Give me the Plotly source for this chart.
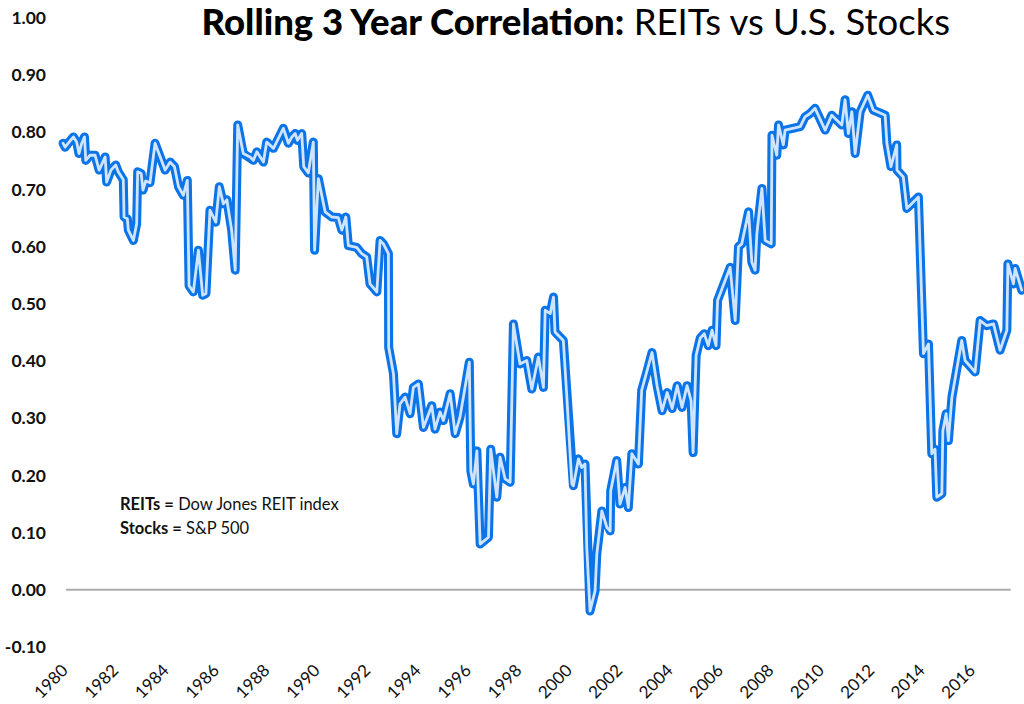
import plotly.graph_objects as go

# Decimal-year dates and rolling 3-year correlation values
years = [
    1980.00, 1980.08, 1980.24, 1980.41, 1980.54, 1980.63, 1980.74, 1980.85, 1980.90, 1981.07,
    1981.27, 1981.43, 1981.67, 1981.73, 1981.90, 1982.09, 1982.19, 1982.39, 1982.42, 1982.55,
    1982.59, 1982.79, 1982.92, 1982.96, 1983.10, 1983.17, 1983.28, 1983.45, 1983.65, 1984.05,
    1984.25, 1984.42, 1984.58, 1984.77, 1984.93, 1985.00, 1985.17, 1985.37, 1985.54, 1985.67,
    1985.83, 1986.06, 1986.20, 1986.36, 1986.50, 1986.69, 1986.83, 1986.93, 1987.15, 1987.42,
    1987.55, 1987.69, 1987.95, 1988.08, 1988.35, 1988.74, 1988.94, 1989.08, 1989.21, 1989.30,
    1989.47, 1989.55, 1989.73, 1989.93, 1989.98, 1990.13, 1990.40, 1990.66, 1990.92, 1991.06,
    1991.22, 1991.32, 1991.65, 1991.85, 1992.05, 1992.18, 1992.45, 1992.58, 1992.71, 1992.91,
    1992.92, 1993.11, 1993.24, 1993.37, 1993.57, 1993.77, 1993.90, 1994.10, 1994.30, 1994.63,
    1994.76, 1994.96, 1995.09, 1995.36, 1995.56, 1995.75, 1996.12, 1996.18, 1996.28, 1996.42,
    1996.55, 1996.88, 1996.97, 1997.21, 1997.34, 1997.54, 1997.74, 1997.87, 1998.13, 1998.40,
    1998.60, 1998.86, 1999.06, 1999.13, 1999.33, 1999.46, 1999.52, 1999.85, 1999.99, 2000.19,
    2000.25, 2000.45, 2000.58, 2000.71, 2000.78, 2000.91, 2001.11, 2001.18, 2001.38, 2001.58,
    2001.71, 2001.73, 2001.97, 2002.10, 2002.30, 2002.43, 2002.57, 2002.83, 2002.96, 2003.16,
    2003.37, 2003.57, 2003.77, 2003.97, 2004.17, 2004.37, 2004.56, 2004.76, 2004.92, 2005.00,
    2005.12, 2005.28, 2005.44, 2005.60, 2005.75, 2005.91, 2005.97, 2006.47, 2006.67, 2006.80,
    2006.93, 2007.20, 2007.33, 2007.46, 2007.53, 2007.73, 2007.86, 2008.10, 2008.13, 2008.32,
    2008.39, 2008.58, 2008.65, 2009.25, 2009.44, 2009.64, 2009.84, 2010.24, 2010.50, 2010.90,
    2011.03, 2011.16, 2011.30, 2011.43, 2011.63, 2011.93, 2012.15, 2012.62, 2012.69, 2012.85,
    2013.08, 2013.09, 2013.34, 2013.48, 2013.68, 2013.94, 2014.14, 2014.34, 2014.47, 2014.60,
    2014.67, 2014.87, 2014.91, 2015.04, 2015.13, 2015.27, 2015.66, 2015.79, 2016.19, 2016.39,
    2016.65, 2016.92, 2017.18, 2017.45, 2017.49, 2017.71, 2017.78, 2018.04,
]
correlation = [
    0.781, 0.774, 0.783, 0.792, 0.783, 0.763, 0.781, 0.792, 0.751, 0.760,
    0.760, 0.734, 0.757, 0.713, 0.734, 0.743, 0.731, 0.717, 0.652, 0.649,
    0.629, 0.611, 0.640, 0.731, 0.728, 0.699, 0.715, 0.712, 0.781, 0.734,
    0.748, 0.740, 0.705, 0.690, 0.716, 0.532, 0.521, 0.594, 0.515, 0.518,
    0.664, 0.643, 0.705, 0.675, 0.682, 0.629, 0.559, 0.813, 0.763, 0.757,
    0.751, 0.766, 0.748, 0.783, 0.772, 0.807, 0.781, 0.792, 0.798, 0.786,
    0.798, 0.740, 0.729, 0.783, 0.594, 0.719, 0.661, 0.652, 0.651, 0.629,
    0.652, 0.602, 0.599, 0.588, 0.582, 0.535, 0.521, 0.611, 0.605, 0.588,
    0.424, 0.378, 0.273, 0.325, 0.337, 0.308, 0.354, 0.360, 0.284, 0.322,
    0.281, 0.311, 0.296, 0.343, 0.273, 0.302, 0.398, 0.208, 0.185, 0.243,
    0.080, 0.092, 0.246, 0.162, 0.232, 0.194, 0.188, 0.465, 0.395, 0.401,
    0.351, 0.407, 0.354, 0.489, 0.483, 0.512, 0.451, 0.436, 0.337, 0.185,
    0.182, 0.229, 0.214, 0.220, 0.074, -0.037, -0.002, 0.063, 0.138, 0.109,
    0.103, 0.173, 0.226, 0.150, 0.179, 0.144, 0.238, 0.220, 0.349, 0.380,
    0.415, 0.357, 0.313, 0.345, 0.317, 0.357, 0.319, 0.357, 0.331, 0.240,
    0.410, 0.440, 0.448, 0.427, 0.454, 0.427, 0.506, 0.564, 0.471, 0.600,
    0.605, 0.661, 0.573, 0.559, 0.623, 0.702, 0.611, 0.605, 0.795, 0.760,
    0.813, 0.778, 0.804, 0.810, 0.827, 0.833, 0.842, 0.804, 0.830, 0.813,
    0.857, 0.798, 0.836, 0.763, 0.836, 0.865, 0.839, 0.830, 0.781, 0.740,
    0.778, 0.734, 0.722, 0.667, 0.675, 0.687, 0.413, 0.430, 0.238, 0.246,
    0.162, 0.168, 0.278, 0.308, 0.261, 0.337, 0.436, 0.401, 0.381, 0.471,
    0.462, 0.465, 0.419, 0.454, 0.570, 0.535, 0.562, 0.524,
]

x_ticks = list(range(1980, 2017, 2))
x_tick_labels = [str(y) for y in x_ticks]
y_ticks = [-0.1, 0.0, 0.1, 0.2, 0.3, 0.4, 0.5, 0.6, 0.7, 0.8, 0.9, 1.0]
y_tick_labels = ["%.2f" % v for v in y_ticks]

title_bold = "Rolling 3 Year Correlation:"
title_rest = "REITs vs U.S. Stocks"
note_lines = [("REITs =", "Dow Jones REIT index"), ("Stocks =", "S&P 500")]

FONT = "Lato, 'Open Sans', sans-serif"
OUTER = "#0b74e8"
INNER = "#cfe4ff"

fig = go.Figure()
fig.add_trace(go.Scatter(x=years, y=correlation, mode="lines",
                         line=dict(color=OUTER, width=9), hoverinfo="skip",
                         showlegend=False, cliponaxis=False))
fig.add_trace(go.Scatter(x=years, y=correlation, mode="lines",
                         line=dict(color=INNER, width=2.8),
                         showlegend=False, cliponaxis=False))

# zero line
fig.add_shape(type="line", xref="x", yref="y", x0=1980.12, x1=2017.6, y0=0, y1=0,
              line=dict(color="#ababab", width=2), layer="below")

fig.update_layout(
    width=1024, height=704,
    margin=dict(l=55, r=0, t=18, b=57, autoexpand=False),
    paper_bgcolor="white", plot_bgcolor="white",
    font=dict(family=FONT, color="#111111"),
    title=dict(text="<span style='font-weight:900'>" + title_bold + "</span> " + title_rest,
               xref="container", yref="container", x=0.5623, y=0.968,
               xanchor="center", yanchor="middle", automargin=False,
               font=dict(family=FONT, size=36.5, color="#000000")),
    xaxis=dict(range=[1979.68, 2018.13], tickmode="array", tickvals=x_ticks,
               ticktext=x_tick_labels, tickangle=-45, showgrid=False,
               zeroline=False, showline=False, ticks="", automargin=False,
               ticklabelstandoff=9,
               tickfont=dict(family=FONT, size=17, color="#111111")),
    yaxis=dict(range=[-0.1, 1.0], tickmode="array", tickvals=y_ticks,
               ticktext=y_tick_labels, showgrid=False, zeroline=False,
               showline=False, ticks="", ticklabelstandoff=8, automargin=False,
               tickfont=dict(family=FONT, size=17.5, color="#111111", weight="bold")),
)

for i, (b, rest) in enumerate(note_lines):
    fig.add_annotation(xref="paper", yref="paper",
                       x=(118 - 55) / 969, y=1 - ((504 + 23.5 * i) - 18) / 629,
                       xanchor="left", yanchor="middle", showarrow=False,
                       text="<b>" + b + "</b> " + rest,
                       font=dict(family=FONT, size=16.5, color="#111111"))

post_js = (
    "document.body.style.margin='0px';"
    "var st=document.createElement('style');"
    "st.textContent='.scatterlayer path.js-line{stroke-linejoin:round !important;stroke-linecap:round !important;}';"
    "document.head.appendChild(st);"
)
fig.write_html("out.html", config={"displayModeBar": False}, post_script=post_js)
